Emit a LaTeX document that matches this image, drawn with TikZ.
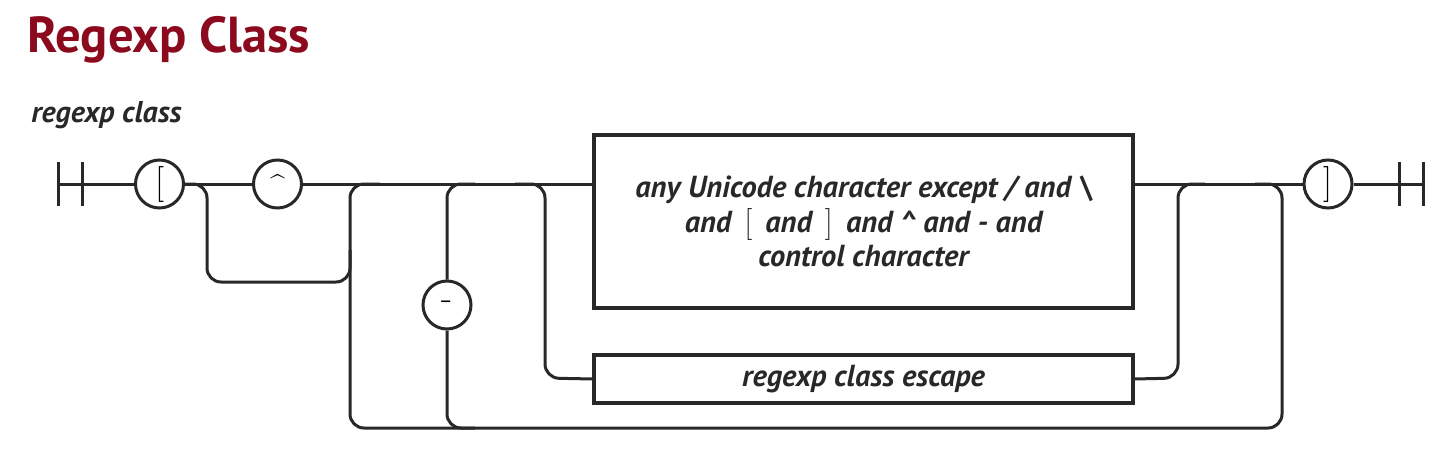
\documentclass[tikz,border=0pt]{standalone}
\usepackage{fontspec}
\newfontfamily\titlefont{PT Sans}
\newfontfamily\labfont[FakeStretch=1.0]{PT Sans}
\definecolor{titlered}{RGB}{140,10,30}
\definecolor{linec}{RGB}{40,40,40}
\newcommand{\thinbr}[1]{{\normalfont\fontsize{16}{16}\selectfont\,#1\,}}
\begin{document}
\begin{tikzpicture}[x=0.5pt,y=-0.5pt,
  rail/.style={draw=linec, line width=1.5pt, rounded corners=7pt},
  bar/.style={draw=linec, line width=1.5pt},
  term/.style={circle, draw=linec, line width=1.5pt, minimum size=24pt, inner sep=0pt,
    font=\normalfont\fontsize{18}{18}\selectfont},
  nonterm/.style={rectangle, draw=linec, line width=1.6pt, inner sep=0pt, minimum width=269.5pt,
    align=center, font=\labfont\bfseries\itshape\fontsize{15.2}{17.25}\selectfont, text=linec}]
\useasboundingbox (0,0) rectangle (1450,466);
% title and label
\node[anchor=base west, inner sep=0pt, text=titlered, font=\titlefont\bfseries\fontsize{25.3}{25.3}\selectfont] (title) at (27,52) {Regexp Class};
\node[anchor=base west, inner sep=0pt, text=linec, font=\labfont\bfseries\itshape\fontsize{15}{15}\selectfont] (rlabel) at (31,122) {regexp class};
% nodes
\node[term] (lb) at (159.5,184) {[};
\node[term, font=\normalfont\fontsize{13}{13}\selectfont] (caret) at (277.5,184) {\textasciicircum};
\node[term] (dash) at (447,305) {-};
\node[term] (rb) at (1328,184) {]};
\node[nonterm, minimum height=86.5pt] (box1) at (863.5,221.5) {any Unicode character except / and \textbackslash\\ and \thinbr{[} and \thinbr{]} and \textasciicircum\ and - and\\ control character};
\node[nonterm, minimum height=24pt] (box2) at (863.5,379) {regexp class escape};
% coordinates
\coordinate (sb1) at (58,184);
\coordinate (sb2) at (82,184);
\coordinate (eb1) at (1399,184);
\coordinate (eb2) at (1423,184);
% bars
\draw[bar] ([yshift=11pt]sb1) -- ([yshift=-11pt]sb1);
\draw[bar] ([yshift=11pt]sb2) -- ([yshift=-11pt]sb2);
\draw[bar] ([yshift=11pt]eb1) -- ([yshift=-11pt]eb1);
\draw[bar] ([yshift=11pt]eb2) -- ([yshift=-11pt]eb2);
% main rail
\draw[rail] (sb1) -- (lb);
\draw[rail] (lb) -- (caret);
\draw[rail] (caret) -- (box1.west |- caret);
\draw[rail] (box1.east |- rb) -- (rb);
\draw[rail] (rb) -- (eb2);
% bypass of caret
\draw[rail] (lb.east) -- (207,184) -- (207,282) -- (350,282) -- (350,250);
% outer loop
\draw[rail] (380,184) -- (350,184) -- (350,428) -- (1282,428) -- (1282,184) -- (1255,184);
% dash loop
\draw[rail] (475,184) -- (447,184) -- (dash.north);
\draw[rail] (dash.south) -- (447,428) -- (475,428);
% escape branch
\draw[rail] (515,184) -- (545,184) -- (545,378) -- (box2.west);
\draw[rail] (box2.east) -- (1178,378) -- (1178,184) -- (1205,184);
\end{tikzpicture}
\end{document}
